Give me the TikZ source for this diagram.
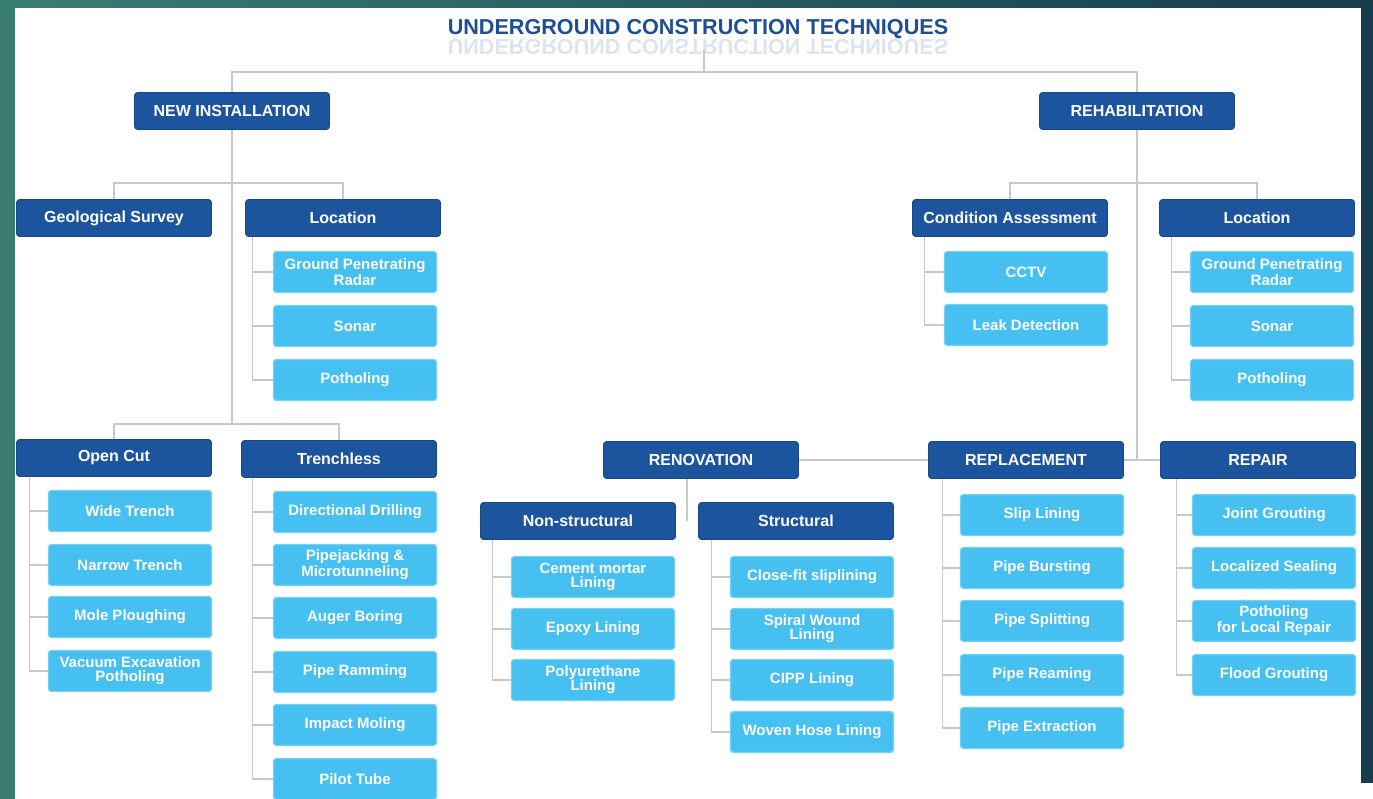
\documentclass[tikz,border=0pt]{standalone}
\usepackage{fontspec}
\setmainfont{Liberation Sans}
\usetikzlibrary{calc}

\definecolor{bgl}{RGB}{58,125,115}
\definecolor{bgr}{RGB}{22,60,78}
\definecolor{ttlblue}{RGB}{30,78,150}
\definecolor{hdblue}{RGB}{28,84,158}
\definecolor{itblue}{RGB}{70,192,240}
\definecolor{lnkgray}{RGB}{200,200,200}

\begin{document}
\begin{tikzpicture}[x=0.5pt,y=-0.5pt,
    title/.style={text=ttlblue,font=\bfseries\fontsize{10.8}{12}\selectfont,inner sep=0pt},
    headbox/.style={rectangle,rounded corners=1.5pt,fill=hdblue,draw=hdblue!85!black,line width=0.4pt,
        minimum width=97.5pt,minimum height=18.5pt,inner sep=0pt,text=white,
        font=\bfseries\fontsize{8}{9}\selectfont},
    itembox/.style={rectangle,rounded corners=1.5pt,fill=itblue,draw=itblue!75!white,line width=0.6pt,
        minimum width=81.5pt,minimum height=20.5pt,inner sep=0pt,text=white,align=center,
        font=\bfseries\fontsize{7.5}{7}\selectfont},
    link/.style={draw=lnkgray,line width=0.6pt}]
    \useasboundingbox (0,0) rectangle (1373,799);
    \shade[left color=bgl,right color=bgr] (0,0) rectangle (1373,799);
    \fill[white] (15,8) rectangle (1361,799);
    \fill[white] (1361,783) rectangle (1373,799);

    \node[title] (ttl) at (698,29) {UNDERGROUND CONSTRUCTION TECHNIQUES};
    \begin{scope}[shift={(698,45)},yscale=-1]
        \node[title,opacity=0.15,transform shape] (ttlrefl) at (0,0) {UNDERGROUND CONSTRUCTION TECHNIQUES};
    \end{scope}

    \node[headbox] (newi) at (232,111) {NEW INSTALLATION};
    \node[headbox] (rehab) at (1137,111) {REHABILITATION};

    \node[headbox] (geo) at (114,218) {Geological Survey};
    \node[headbox] (locl) at (343,218) {Location};
    \node[headbox] (condass) at (1010,218) {Condition Assessment};
    \node[headbox] (locr) at (1257,218) {Location};

    \node[headbox] (opencut) at (114,458) {Open Cut};
    \node[headbox] (trench) at (339,459) {Trenchless};
    \node[headbox] (renov) at (701,460) {RENOVATION};
    \node[headbox] (replace) at (1026,460) {REPLACEMENT};
    \node[headbox] (repair) at (1258,460) {REPAIR};
    \node[headbox] (nonst) at (578,521) {Non-structural};
    \node[headbox] (struc) at (796,521) {Structural};

    \foreach \n/\y/\t in {gprl/272/Ground Penetrating\\Radar,sonarl/326/Sonar,pothl/380/Potholing}
        \node[itembox] (\n) at (355,\y) {\t};
    \foreach \n/\y/\t in {gprr/272/Ground Penetrating\\Radar,sonarr/326/Sonar,pothr/380/Potholing}
        \node[itembox] (\n) at (1272,\y) {\t};
    \foreach \n/\y/\t in {cctv/272/CCTV,leak/325/Leak Detection}
        \node[itembox] (\n) at (1026,\y) {\t};
    \foreach \n/\y/\t in {wide/511/Wide Trench,narrow/565/Narrow Trench,mole/617/Mole Ploughing,
            vacuum/671/Vacuum Excavation\\Potholing}
        \node[itembox] (\n) at (130,\y) {\t};
    \foreach \n/\y/\t in {dirdrill/512/Directional Drilling,pipejack/565/Pipejacking \&\\Microtunneling,
            auger/618/Auger Boring,ramming/672/Pipe Ramming,moling/725/Impact Moling,pilot/779/Pilot Tube}
        \node[itembox] (\n) at (355,\y) {\t};
    \foreach \n/\y/\t in {cement/577/Cement mortar\\Lining,epoxy/629/Epoxy Lining,polyu/680/Polyurethane\\Lining}
        \node[itembox] (\n) at (593,\y) {\t};
    \foreach \n/\y/\t in {closefit/577/Close-fit sliplining,spiral/629/Spiral Wound\\Lining,
            cipp/680/CIPP Lining,woven/732/Woven Hose Lining}
        \node[itembox] (\n) at (812,\y) {\t};
    \foreach \n/\y/\t in {slip/515/Slip Lining,burst/568/Pipe Bursting,split/621/Pipe Splitting,
            ream/675/Pipe Reaming,extract/728/Pipe Extraction}
        \node[itembox] (\n) at (1042,\y) {\t};
    \foreach \n/\y/\t in {joint/515/Joint Grouting,localseal/568/Localized Sealing,
            pothrep/621/Potholing\\for Local Repair,flood/675/Flood Grouting}
        \node[itembox] (\n) at (1274,\y) {\t};

    \coordinate (tstub) at (704,50);
    \coordinate (tjoin) at (704,72);
    \coordinate (nfork) at (232,183);
    \coordinate (nbus) at (232,424);
    \coordinate (rfork) at (1137,183);
    \draw[link] (tstub) -- (tjoin);
    \draw[link] (newi.north) |- (tjoin) -| (rehab.north);
    \draw[link] (newi.south) -- (nbus);
    \draw[link] (geo.north) |- (nfork) -| (locl.north);
    \draw[link] (opencut.north) |- (nbus) -| (trench.north);
    \draw[link] (condass.north) |- (rfork) -| (locr.north);
    \draw[link] (rehab.south) -- (rehab.south |- repair.west);
    \draw[link] (renov.east) -- (replace.west);
    \draw[link] (replace.east) -- (repair.west);
    \draw[link] ($(nonst.east)!.5!(struc.west)$) coordinate (rmid) -- (rmid |- renov.south);

    \foreach \n in {gprl,sonarl,pothl}
        \draw[link] ([xshift=3.5pt]locl.south west) |- (\n.west);
    \foreach \n in {gprr,sonarr,pothr}
        \draw[link] ([xshift=6pt]locr.south west) |- (\n.west);
    \foreach \n in {cctv,leak}
        \draw[link] ([xshift=6pt]condass.south west) |- (\n.west);
    \foreach \n in {wide,narrow,mole,vacuum}
        \draw[link] ([xshift=6.5pt]opencut.south west) |- (\n.west);
    \foreach \n in {dirdrill,pipejack,auger,ramming,moling,pilot}
        \draw[link] ([xshift=5.5pt]trench.south west) |- (\n.west);
    \foreach \n in {cement,epoxy,polyu}
        \draw[link] ([xshift=6pt]nonst.south west) |- (\n.west);
    \foreach \n in {closefit,spiral,cipp,woven}
        \draw[link] ([xshift=6.5pt]struc.south west) |- (\n.west);
    \foreach \n in {slip,burst,split,ream,extract}
        \draw[link] ([xshift=7pt]replace.south west) |- (\n.west);
    \foreach \n in {joint,localseal,pothrep,flood}
        \draw[link] ([xshift=8pt]repair.south west) |- (\n.west);
\end{tikzpicture}
\end{document}
